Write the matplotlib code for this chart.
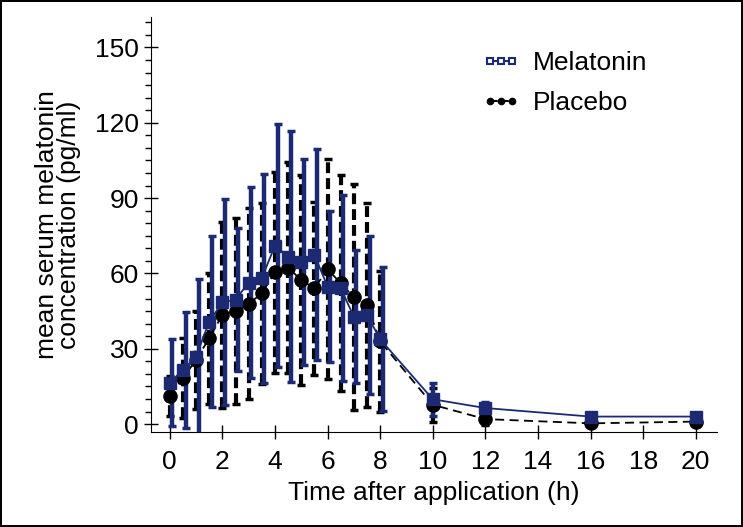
import matplotlib
matplotlib.use('Agg')
import matplotlib.pyplot as plt
from matplotlib.lines import Line2D
from matplotlib.ticker import MultipleLocator

plt.rcParams['font.family'] = ['Liberation Sans', 'DejaVu Sans']

# data (hours, pg/ml)
time = [0, 0.5, 1, 1.5, 2, 2.5, 3, 3.5, 4, 4.5, 5, 5.5, 6, 6.5, 7, 7.5, 8, 10, 12, 16, 20]
mel_mean = [16.5, 21.6, 26.9, 40.8, 48.5, 49.5, 56.4, 58.1, 71.1, 66.7, 64.7,
            67.4, 54.8, 54.1, 42.8, 43.5, 33.8, 9.9, 6.4, 3.0, 3.0]
mel_sd = [17.3, 23.0, 31.0, 34.0, 41.0, 28.5, 38.0, 41.7, 48.3, 50.0, 41.0,
          42.0, 30.0, 37.0, 26.6, 31.6, 28.6, 6.5, 2.4, 1.0, 1.2]
pla_mean = [11.3, 18.3, 25.6, 34.2, 43.5, 45.2, 47.9, 52.1, 60.5, 62.3, 57.4,
            54.1, 61.7, 56.1, 50.5, 47.5, 33.0, 7.7, 2.0, 0.3, 1.0]
pla_sd = [8.0, 16.0, 19.6, 26.0, 37.0, 37.0, 38.0, 36.0, 40.0, 42.0, 42.0,
          34.5, 43.7, 43.0, 45.0, 40.6, 28.0, 6.7, 2.5, 1.0, 1.0]

navy = '#1b2a72'
bar_shift = 0.1  # melatonin error bars sit a little right of the markers

fig = plt.figure(figsize=(7.43, 5.27), dpi=100)
fig.patch.set_edgecolor('black')
fig.patch.set_linewidth(1.5)
ax = fig.add_axes([0.203, 0.18, 0.7617, 0.788])

# placebo
eb = ax.errorbar(time, pla_mean, yerr=pla_sd, fmt='none', ecolor='black',
                 elinewidth=3, capsize=3, capthick=2.5, zorder=2)
eb[2][0].set_linestyle((0, (2.6, 1.2)))
ax.plot(time, pla_mean, color='black', lw=1.3, ls=(0, (5, 3)), marker='o',
        markersize=9.5, zorder=4)

# melatonin
bx = [t + bar_shift if t <= 8 else t for t in time]
ax.errorbar(bx, mel_mean, yerr=mel_sd, fmt='none', ecolor=navy,
            elinewidth=3.2, capsize=3, capthick=2.5, zorder=3)
ax.plot(time, mel_mean, color=navy, lw=1.3, marker='s', markersize=9,
        zorder=5)

ax.set_xlim(-0.72, 20.8)
ax.set_ylim(-3.2, 162.2)
ax.set_xticks(range(0, 21, 2))
ax.set_yticks(range(0, 151, 30))
ax.yaxis.set_minor_locator(MultipleLocator(5))
ax.spines['top'].set_visible(False)
ax.spines['right'].set_visible(False)
ax.tick_params(which='major', direction='inout', length=10, width=1, labelsize=19)
ax.tick_params(which='minor', direction='out', length=4, width=1)
ax.tick_params(axis='x', pad=8)

ax.set_xlabel('Time after application (h)', fontsize=19, labelpad=5)
ax.set_ylabel('mean serum melatonin\nconcentration (pg/ml)', fontsize=19,
              labelpad=10, linespacing=0.92)

handles = [
    Line2D([], [], color=navy, lw=1.5, marker='s', markersize=4,
           markerfacecolor='white', markeredgecolor=navy, markeredgewidth=1.5),
    Line2D([], [], color='black', lw=1.5, ls='--', marker='o', markersize=4.5),
]
ax.legend(handles, ['Melatonin', 'Placebo'], loc='upper left',
          bbox_to_anchor=(0.585, 0.918), frameon=False, fontsize=19,
          borderaxespad=0, borderpad=0,
          numpoints=3, handlelength=1.45, handletextpad=0.5, labelspacing=0.6)

fig.savefig('out.png', dpi=100)
